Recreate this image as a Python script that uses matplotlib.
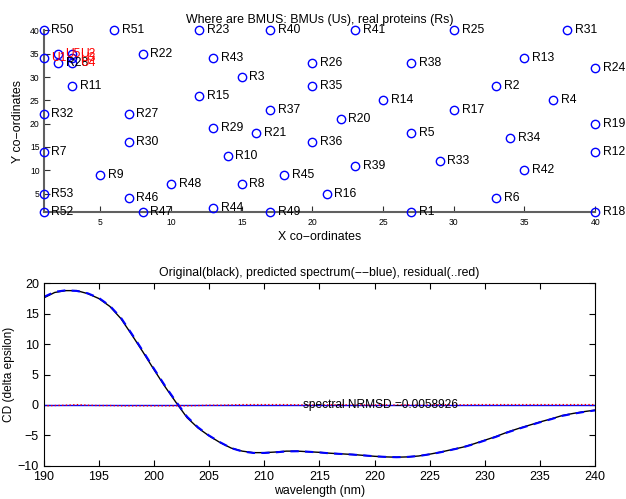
import numpy as np
import matplotlib
matplotlib.use('Agg')
import matplotlib.pyplot as plt

plt.rcParams['font.family'] = ['Liberation Sans', 'DejaVu Sans']

# BMU map: real proteins (R) and BMUs (U)
r_names = ['R50', 'R51', 'R23', 'R40', 'R41', 'R25', 'R31', 'R22', 'R43', 'R26',
           'R38', 'R13', 'R24', 'R3', 'R11', 'R35', 'R2', 'R15', 'R14', 'R4',
           'R37', 'R17', 'R32', 'R27', 'R20', 'R19', 'R29', 'R21', 'R5', 'R34',
           'R30', 'R36', 'R7', 'R12', 'R10', 'R33', 'R39', 'R42', 'R9', 'R45',
           'R48', 'R8', 'R16', 'R53', 'R46', 'R6', 'R44', 'R52', 'R47', 'R49',
           'R1', 'R18', 'R28']
r_x = [1, 6, 12, 17, 23, 30, 38, 8, 13, 20,
       27, 35, 40, 15, 3, 20, 33, 12, 25, 37,
       17, 30, 1, 7, 22, 40, 13, 16, 27, 34,
       7, 20, 1, 40, 14, 29, 23, 35, 5, 18,
       10, 15, 21, 1, 7, 33, 13, 1, 8, 17,
       27, 40, 2]
r_y = [40, 40, 40, 40, 40, 40, 40, 35, 34, 33,
       33, 34, 32, 30, 28, 28, 28, 26, 25, 25,
       23, 23, 22, 22, 21, 20, 19, 18, 18, 17,
       16, 16, 14, 14, 13, 12, 11, 10, 9, 9,
       7, 7, 5, 5, 4, 4, 2, 1, 1, 1,
       1, 1, 33]

u_names = ['U1', 'U5', 'U2', 'U3', 'U4']
u_x = [1, 2, 3, 3, 3]
u_y = [34, 35, 35, 34, 33]

# CD spectrum
wavelength = np.arange(190, 241)
original = [17.6, 18.5, 18.8, 18.8, 18.3, 17.5, 16.2, 14.2, 11.5, 8.7,
            5.8, 3.0, 0.4, -2.1, -3.8, -5.1, -6.2, -7.1, -7.6, -7.85,
            -7.85, -7.75, -7.6, -7.6, -7.7, -7.8, -7.95, -8.05, -8.15, -8.3,
            -8.45, -8.55, -8.6, -8.55, -8.4, -8.1, -7.75, -7.35, -6.95, -6.4,
            -5.8, -5.2, -4.5, -3.9, -3.35, -2.8, -2.3, -1.75, -1.4, -1.1,
            -0.85]
predicted = [17.75, 18.6, 18.85, 18.75, 18.35, 17.6, 16.3, 14.35, 11.65, 8.85,
             5.95, 3.15, 0.55, -1.95, -3.7, -5.05, -6.15, -7.1, -7.65, -7.9,
             -7.9, -7.8, -7.65, -7.62, -7.7, -7.82, -7.97, -8.07, -8.17, -8.3,
             -8.45, -8.55, -8.6, -8.55, -8.4, -8.12, -7.78, -7.38, -6.97, -6.45,
             -5.85, -5.25, -4.55, -3.95, -3.4, -2.85, -2.35, -1.8, -1.45, -1.15,
             -0.9]
residual = np.array(original) - np.array(predicted)
nrmsd = 0.0058926

fig = plt.figure(figsize=(6.26, 4.99), dpi=100)

# top: BMU positions
ax1 = fig.add_axes([0.0698, 0.5745, 0.881, 0.3647])
ax1.plot(r_x + u_x, r_y + u_y, 'o', mfc='none', mec='blue', ms=6, mew=1, clip_on=False, zorder=3)
for n, x, y in zip(r_names, r_x, r_y):
    ax1.text(x + 0.55, y, n, color='black', fontsize=8.7, va='center', ha='left', clip_on=False)
for n, x, y in zip(u_names, u_x, u_y):
    ax1.text(x + 0.55, y, n, color='red', fontsize=8.7, va='center', ha='left', clip_on=False)
ax1.set_xlim(1, 40)
ax1.set_ylim(1, 40)
ax1.spines['top'].set_visible(False)
ax1.spines['right'].set_visible(False)
for s in ['left', 'bottom']:
    ax1.spines[s].set_color('#606060')
    ax1.spines[s].set_linewidth(1.5)
ax1.set_xticks(range(5, 41, 5))
ax1.set_yticks(range(5, 41, 5))
ax1.tick_params(direction='in', length=4, width=0.8, labelsize=6.2, color='#303030')
ax1.tick_params(axis='x', pad=4)
ax1.tick_params(axis='y', pad=3)
ax1.set_title('Where are BMUS: BMUs (Us), real proteins (Rs)', fontsize=8.9, pad=5)
ax1.set_xlabel('X co\u2212ordinates', fontsize=8.9, labelpad=3)
ax1.set_ylabel('Y co\u2212ordinates', fontsize=8.9, labelpad=4)

# bottom: spectra
ax2 = fig.add_axes([0.0698, 0.0667, 0.881, 0.3655])
ax2.axhline(0, color='blue', lw=1)
ax2.plot(wavelength, original, color='black', lw=1)
ax2.plot(wavelength, predicted, '--', color='blue', lw=1.5, dashes=(4, 3))
ax2.plot(wavelength, residual, ':', color='red', lw=1)
ax2.text(213.5, 0, 'spectral NRMSD =' + str(nrmsd), fontsize=8.6, va='center', ha='left')
ax2.set_xlim(190, 240)
ax2.set_ylim(-10, 20)
ax2.set_xticks(range(190, 241, 5))
ax2.set_yticks(range(-10, 21, 5))
ax2.tick_params(direction='in', top=True, right=True, length=4, labelsize=9)
ax2.set_title('Original(black), predicted spectrum(\u2212\u2212blue), residual(..red)', fontsize=8.8, pad=5)
ax2.set_xlabel('wavelength (nm)', fontsize=8.8, labelpad=2)
ax2.set_ylabel('CD (delta epsilon)', fontsize=8.6, labelpad=2)

fig.savefig('out.png', dpi=100)
